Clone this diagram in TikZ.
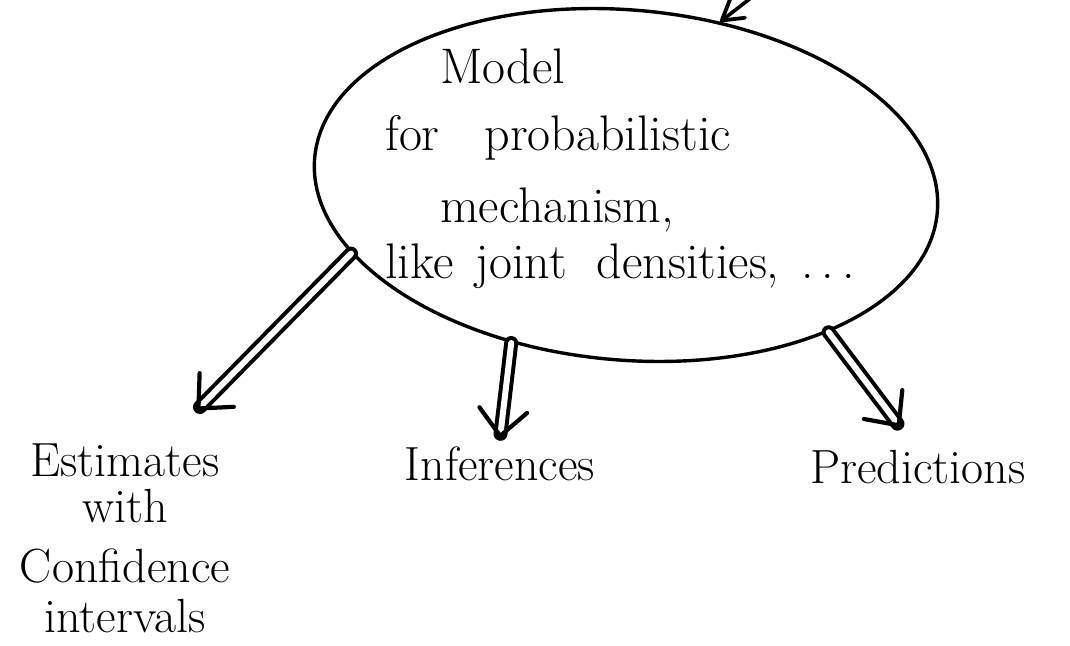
\documentclass[tikz,border=0pt]{standalone}
\usepackage{tikz}
\usetikzlibrary{shapes.geometric,arrows.meta}

\begin{document}
\begin{tikzpicture}[x=1pt,y=-1pt,line cap=round,line join=round,
    txt/.style={anchor=base west,inner sep=0pt,font=\fontsize{50}{56}\selectfont},
    lbl/.style={anchor=base,inner sep=0pt,font=\fontsize{48}{56}\selectfont},
    dbl/.style={draw,double,double distance=6pt,line width=4pt,
        -{Straight Barb[round,length=26pt,width=48pt,line width=4.2pt]}}]
   \useasboundingbox (0,0) rectangle (1070,645);
   % the model
   \node[draw,ellipse,line width=3.4pt,minimum width=625pt,minimum height=350pt,
         rotate=-5] (model) at (626,185) {};
   \node[txt] (m_1) at (440,83)  {Model};
   \node[txt] (m_2) at (385,150) {for\hspace{45pt}probabilistic};
   \node[txt] (m_3) at (440,222) {mechanism,};
   \node[txt] (m_4) at (385,278)
        {like\hspace{22pt}joint\hspace{30pt}densities,\hspace{22pt}.\hspace{8pt}.\hspace{8pt}.};
   % what comes out of it
   \node[lbl,anchor=north,align=center] (est) at (125,444)
        {Estimates\\[-10pt]with\\[4pt]Confidence\\[-6pt]intervals};
   \node[lbl] (inf)  at (500,480) {Inferences};
   \node[lbl] (pred) at (918,483) {Predictions};
   \coordinate (src)      at (756,-6);
   \coordinate (est_tip)  at (197,410);
   \coordinate (inf_tip)  at (500,438);
   \coordinate (pred_tip) at (900,427);
   \draw[line width=3.6pt,-{Straight Barb[round,length=20pt,width=24pt,line width=3.8pt]}]
        (src) -- (model.65);
   \draw[dbl] (model.199) -- (est_tip);
   \draw[dbl] (model.239) -- (inf_tip);
   \draw[dbl] (model.329) -- (pred_tip);
\end{tikzpicture}
\end{document}
